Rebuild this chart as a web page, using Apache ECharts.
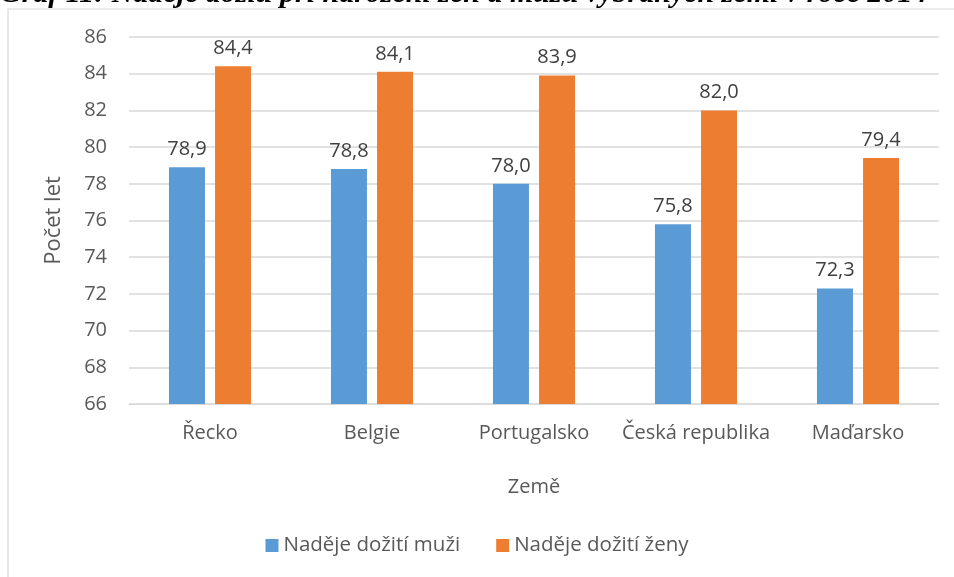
<!DOCTYPE html>
<html>
<head>
<meta charset="utf-8">
<script src="https://cdn.jsdelivr.net/npm/echarts@6/dist/echarts.min.js"></script>
<style>
  html, body { margin: 0; padding: 0; background: #fff; }
  #chart { width: 954px; height: 577px; }
</style>
</head>
<body>
<div id="chart"></div>
<script>
const titleText = "Graf 11: Naděje dožití při narození žen a mužů vybraných zemí v roce 2014";
const countries = ["Řecko", "Belgie", "Portugalsko", "Česká republika", "Maďarsko"];
const menValues = [78.9, 78.8, 78.0, 75.8, 72.3];
const womenValues = [84.4, 84.1, 83.9, 82.0, 79.4];
const seriesNames = ["Naděje dožití muži", "Naděje dožití ženy"];

const font = "'Open Sans', sans-serif";
const textColor = "#595959";
const gridColor = "#D9D9D9";
const fs = 20;

const chart = echarts.init(document.getElementById("chart"));

const fmt = (p) => p.value.toFixed(1).replace(".", ",");

chart.setOption({
  animation: false,
  textStyle: { fontFamily: font },
  graphic: [
    {
      type: "rect",
      shape: { x: 8, y: 9, width: 960, height: 600 },
      style: { fill: "none", stroke: gridColor, lineWidth: 1.2 },
      silent: true
    },
    {
      type: "text",
      x: 0,
      y: 9,
      style: {
        text: titleText,
        font: "italic bold 30px 'Liberation Serif', serif",
        fill: "#000",
        verticalAlign: "bottom"
      },
      silent: true
    }
  ],
  grid: { left: 129, right: 15, top: 37, bottom: 173 },
  legend: {
    bottom: 16,
    left: "center",
    itemWidth: 13,
    itemHeight: 13,
    itemGap: 36,
    icon: "rect",
    textStyle: { fontSize: 20.5, color: textColor, fontFamily: font },
    data: seriesNames
  },
  xAxis: {
    type: "category",
    data: countries,
    name: "Země",
    nameLocation: "middle",
    nameGap: 73,
    nameTextStyle: { fontSize: fs, color: textColor },
    axisLine: { show: true, lineStyle: { color: gridColor } },
    axisTick: { show: false },
    axisLabel: { fontSize: fs, color: textColor, margin: 19, interval: 0 }
  },
  yAxis: {
    type: "value",
    min: 66,
    max: 86,
    interval: 2,
    name: "Počet let",
    nameLocation: "middle",
    nameGap: 64,
    nameTextStyle: { fontSize: 22, color: textColor },
    axisLine: { show: false },
    axisTick: { show: false },
    axisLabel: { fontSize: fs, color: textColor, margin: 22 },
    splitLine: { lineStyle: { color: gridColor, width: 1.5 } }
  },
  series: [
    {
      name: seriesNames[0],
      type: "bar",
      data: menValues,
      barWidth: 36,
      barGap: "28%",
      itemStyle: { color: "#5B9BD5" },
      label: { show: true, position: "top", distance: 8, fontSize: fs, color: "#404040", formatter: fmt }
    },
    {
      name: seriesNames[1],
      type: "bar",
      data: womenValues,
      barWidth: 36,
      barGap: "28%",
      itemStyle: { color: "#ED7D31" },
      label: { show: true, position: "top", distance: 8, fontSize: fs, color: "#404040", formatter: fmt }
    }
  ]
});
</script>
</body>
</html>
